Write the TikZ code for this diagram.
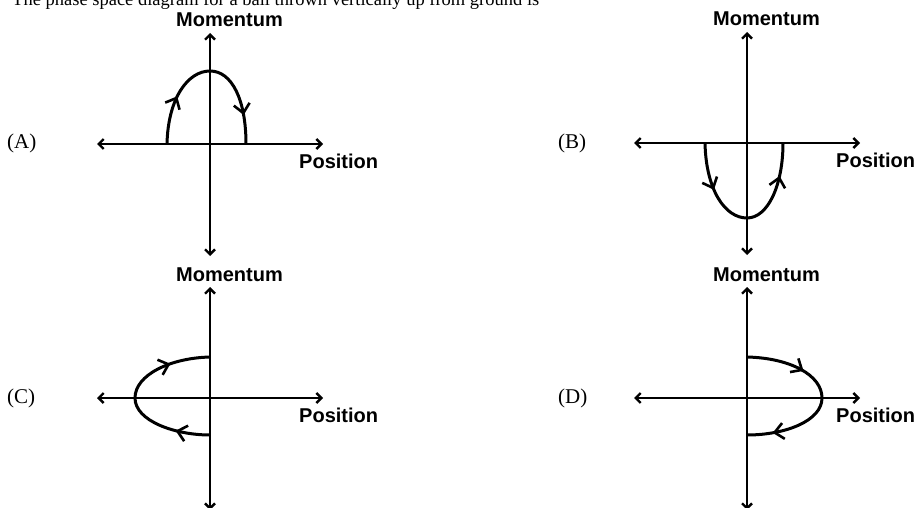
\documentclass[tikz,border=0pt]{standalone}
\usepackage{fontspec}
\setmainfont{Liberation Serif}
\setsansfont{Liberation Sans}
\usetikzlibrary{arrows.meta,decorations.markings}

\begin{document}
\begin{tikzpicture}[x=1pt,y=-1pt,
   axis/.style={line width=2.4pt,{Straight Barb[length=5pt,width=10pt]}-{Straight Barb[length=5pt,width=10pt]}},
   orbit/.style={line width=3pt,postaction={decorate}},
   midarrows/.style 2 args={decoration={markings,
      mark=at position #1 with {\arrow[line width=2.6pt]{Straight Barb[length=9pt,width=16pt]}},
      mark=at position #2 with {\arrow[line width=2.6pt]{Straight Barb[length=9pt,width=16pt]}}}},
   axlabel/.style={font=\sffamily\bfseries\fontsize{20}{24}\selectfont,inner sep=0pt,anchor=base west},
   tag/.style={font=\fontsize{21}{25}\selectfont,inner sep=0pt,anchor=base west}]
  \useasboundingbox (0,0) rectangle (915,508);
  \node (title) [font=\fontsize{18.5}{22}\selectfont,inner sep=0pt,anchor=base west] at (12,6)
     {The phase space diagram for a ball thrown vertically up from ground is};
  % four sets of axes
  \foreach \n/\x/\y/\t in {A/210/144/7, B/747/143/558, C/210/398/7, D/747/398/558} {
    \coordinate (o\n) at (\x,\y);
    \coordinate (l\n) at (\x-113,\y);
    \coordinate (r\n) at (\x+113,\y);
    \coordinate (u\n) at (\x,\y-111);
    \coordinate (d\n) at (\x,\y+112);
    \draw[axis] (l\n) -- (r\n);
    \draw[axis] (u\n) -- (d\n);
    \node (m\n) [axlabel] at (\x-34,\y-117) {Momentum};
    \node (p\n) [axlabel] at (\x+89,\y+24) {Position};
    \node (t\n) [tag] at (\t,\y+5) {(\n)};
  }
  % trajectories
  \draw[orbit,midarrows={0.27}{0.84}] (167,144) .. controls (168,98) and (188,71) .. (210,71)
     .. controls (232,71) and (246,100) .. (246,144);
  \draw[orbit,midarrows={0.26}{0.82}] (705,143) .. controls (706,190) and (725,218) .. (747,218)
     .. controls (768,218) and (783,185) .. (783,143);
  \draw[orbit,midarrows={0.19}{0.78}] (210,435) .. controls (175,435) and (135,421) .. (135,398)
     .. controls (135,375) and (170,358) .. (210,357);
  \draw[orbit,midarrows={0.32}{0.86}] (747,357) .. controls (790,358) and (822,375) .. (822,398)
     .. controls (822,421) and (785,435) .. (747,435);
\end{tikzpicture}
\end{document}
